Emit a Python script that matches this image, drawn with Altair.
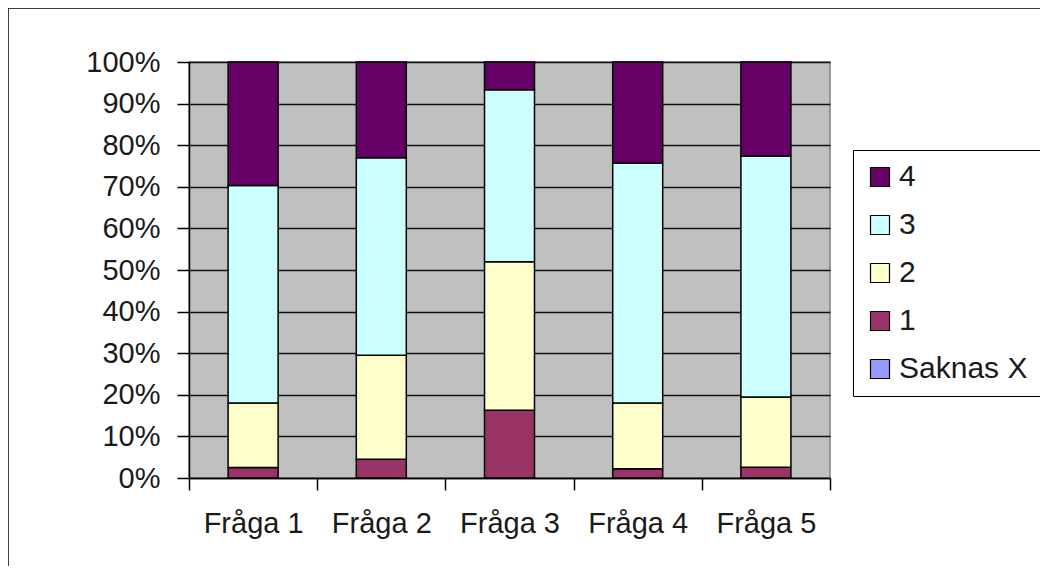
import altair as alt
import pandas as pd

categories = ["Fråga 1", "Fråga 2", "Fråga 3", "Fråga 4", "Fråga 5"]
series_names = ["Saknas X", "1", "2", "3", "4"]
saknas_x = [0.0, 0.0, 0.0, 0.0, 0.0]
s1 = [2.5, 4.5, 16.3, 2.2, 2.6]
s2 = [15.5, 25.0, 35.7, 15.8, 16.9]
s3 = [52.3, 47.5, 41.3, 57.7, 57.9]
s4 = [29.7, 23.0, 6.7, 24.3, 22.6]
y_ticks = [0, 0.1, 0.2, 0.3, 0.4, 0.5, 0.6, 0.7, 0.8, 0.9, 1.0]

legend_order = ["4", "3", "2", "1", "Saknas X"]
colors = ["#660066", "#CCFFFF", "#FFFFCC", "#993366", "#9999FF"]

rows = []
for name, vals in zip(series_names, [saknas_x, s1, s2, s3, s4]):
    for c, v in zip(categories, vals):
        rows.append({"q": c, "serie": name, "v": v, "ord": series_names.index(name)})
df = pd.DataFrame(rows)

FONT = "Liberation Sans"
TXT = "#1a1a1a"

bars = alt.Chart(df).mark_bar(size=50, stroke="black", strokeWidth=1.5).encode(
    x=alt.X("q:N", sort=categories, title=None,
            scale=alt.Scale(paddingInner=0, paddingOuter=0),
            axis=alt.Axis(labelAngle=0, tickBand="extent", grid=False, domainColor="black",
                          tickColor="black", tickSize=12, labelPadding=19,
                          labelFontSize=29, labelFont=FONT, labelColor=TXT,
                          domainWidth=1.5, tickWidth=1.5)),
    y=alt.Y("v:Q", stack="normalize", title=None,
            scale=alt.Scale(domain=[0, 1], nice=False),
            axis=alt.Axis(values=y_ticks, format=".0%", grid=True, gridColor="#111111",
                          gridWidth=1.5, domainColor="black", tickColor="black",
                          tickSize=12, labelPadding=17, labelFontSize=29, labelFont=FONT,
                          labelColor=TXT, domainWidth=1.5, tickWidth=1.5)),
    color=alt.Color("serie:N", scale=alt.Scale(domain=legend_order, range=colors),
                    legend=alt.Legend(title=None, orient="none", legendX=664, legendY=88,
                                      symbolType="square", symbolSize=361,
                                      symbolStrokeColor="black", symbolStrokeWidth=1.2,
                                      labelFontSize=30, labelFont=FONT, labelColor=TXT,
                                      rowPadding=18, padding=12, labelOffset=4,
                                      strokeColor="black", fillColor="white",
                                      symbolOpacity=1)),
    order=alt.Order("ord:Q", sort="ascending"),
)

frame_top = alt.Chart().mark_rule(color="black", strokeWidth=1.5).encode(
    x=alt.value(-181), x2=alt.value(900), y=alt.value(-54))
frame_left = alt.Chart().mark_rule(color="black", strokeWidth=1.5).encode(
    x=alt.value(-181), y=alt.value(-54), y2=alt.value(520))

chart = alt.layer(bars, frame_top, frame_left).properties(
    width=641, height=416,
    autosize=alt.AutoSizeParams(type="none"),
    padding={"left": 181, "top": 54, "right": 210, "bottom": 88},
).configure_view(fill="#C0C0C0", stroke="#808080", strokeWidth=1.5)

chart.save("out.html", embed_options={"renderer": "svg", "actions": False})
